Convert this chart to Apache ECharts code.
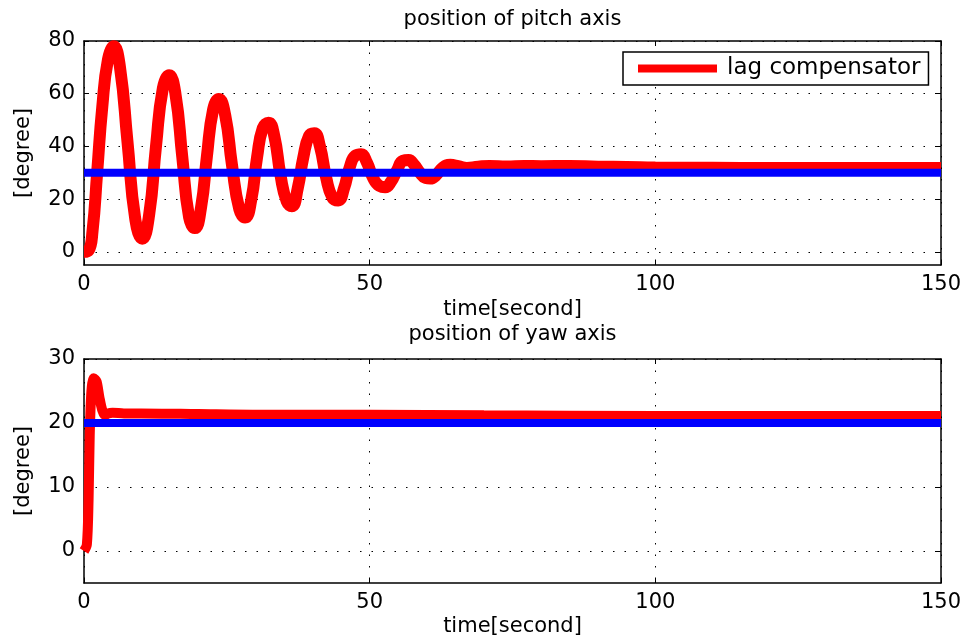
<!DOCTYPE html>
<html>
<head>
<meta charset="utf-8">
<script src="https://cdn.jsdelivr.net/npm/echarts@6/dist/echarts.min.js"></script>
<style>
  html, body { margin: 0; padding: 0; background: #fff; }
  #chart { width: 968px; height: 640px; }
</style>
</head>
<body>
<div id="chart"></div>
<script>
// pitch axis response (time in s, angle in degree)
var pitchT = [0, 0.8, 1.5, 2.3, 3.2, 4.2, 5.2, 6.3, 7.6, 9, 10.2, 11.4, 12.6, 13.8, 14.9,
  16, 17.2, 18.4, 19.4, 20.5, 21.5, 22.6, 23.6, 24.7, 25.9, 27.2, 28.2, 29.3, 30.3, 31.3, 32.3,
  33.3, 34.4, 35.5, 36.4, 37.4, 38.4, 39.4, 40.3, 41.3, 42.4, 43.5, 44.5, 45.5, 46.5, 47.5, 48.5,
  49.5, 50.6, 51.7, 52.7, 53.7, 54.8, 55.8, 56.8, 57.8, 58.8, 59.8, 60.6, 61.6, 62.8, 64.1,
  65.5, 67, 69, 71, 74, 77, 80, 85, 90, 95, 100, 110, 120, 130, 140, 150];
var pitchDeg = [0, 0.5, 8, 30, 55, 73, 78, 70, 42, 12, 5, 14, 40, 62, 67,
  60, 36, 13, 9, 17, 36, 54, 58, 52, 33, 16, 13, 20, 36, 47, 49,
  44, 29, 19, 17.3, 24, 36, 44, 45, 40, 28, 20.5, 19.5, 24, 32, 36.5, 37,
  34, 28, 25, 24.5, 26.5, 31, 34.5, 34.8, 33, 30, 28, 27.8, 29, 32, 33,
  32.5, 31.8, 32.3, 32.6, 32.4, 32.6, 32.5, 32.6, 32.3, 32.2, 32, 31.9, 31.8, 31.8, 31.8, 31.8];

// yaw axis response
var yawT = [0, 0.5, 0.8, 1.0, 1.3, 1.7, 2.2, 2.7, 3.2, 3.7, 4.2, 5, 7, 10, 20, 30, 50, 70, 100, 150];
var yawDeg = [0, 1, 8, 18, 25, 27, 26.5, 24, 22, 21.2, 21.5, 21.6, 21.5, 21.5, 21.4, 21.3, 21.3, 21.2, 21.1, 21.1];

// reference (set point) lines
var refT = [0, 150];
var pitchRef = [30, 30];
var yawRef = [20, 20];

var xTicks = [0, 50, 100, 150];
var pitchTicks = [0, 20, 40, 60, 80];
var yawTicks = [0, 10, 20, 30];

function pairs(xs, ys) {
  return xs.map(function (x, i) { return [x, ys[i]]; });
}

var font = "DejaVu Sans";
var dotted = { color: "#000", width: 1, type: [1.5, 10] };

function xAxisFor(grid, name, gap) {
  return {
    type: "value", gridIndex: grid, min: 0, max: 150, interval: 50,
    name: name, nameLocation: "middle", nameGap: gap,
    nameTextStyle: { fontFamily: font, fontSize: 21, color: "#000" },
    axisLine: { show: true, onZero: false, lineStyle: { color: "#000", width: 1.5 } },
    axisTick: { show: true, inside: true, length: 5, customValues: xTicks, lineStyle: { color: "#000" } },
    axisLabel: { fontFamily: font, fontSize: 21, color: "#000", margin: 9, customValues: xTicks },
    splitLine: { show: true, lineStyle: dotted }
  };
}
function topAxisFor(grid, name, gap) {
  return {
    type: "value", gridIndex: grid, position: "top", min: 0, max: 150, interval: 50,
    name: name, nameLocation: "middle", nameGap: gap,
    nameTextStyle: { fontFamily: font, fontSize: 21, color: "#000" },
    axisLine: { show: true, onZero: false, lineStyle: { color: "#000", width: 1.5 } },
    axisTick: { show: true, inside: true, length: 5, lineStyle: { color: "#000" } },
    axisLabel: { show: false },
    splitLine: { show: false }
  };
}
function yAxisFor(grid, min, max, ticks) {
  return {
    type: "value", gridIndex: grid, min: min, max: max,
    name: "[degree]", nameLocation: "middle", nameGap: 50,
    nameTextStyle: { fontFamily: font, fontSize: 21, color: "#000" },
    axisLine: { show: true, onZero: false, lineStyle: { color: "#000", width: 1.5 } },
    axisTick: { show: true, inside: true, length: 5, customValues: ticks, lineStyle: { color: "#000" } },
    axisLabel: { fontFamily: font, fontSize: 21, color: "#000", margin: 9, customValues: ticks },
    splitLine: { show: true, lineStyle: dotted }
  };
}
function rightAxisFor(grid, min, max, ticks) {
  return {
    type: "value", gridIndex: grid, position: "right", min: min, max: max,
    axisLine: { show: true, onZero: false, lineStyle: { color: "#000", width: 1.5 } },
    axisTick: { show: true, inside: true, length: 5, customValues: ticks, lineStyle: { color: "#000" } },
    axisLabel: { show: false },
    splitLine: { show: false }
  };
}

var chart = echarts.init(document.getElementById("chart"));
var option = {
  backgroundColor: "#fff",
  animation: false,
  grid: [
    { left: 84, right: 27, top: 41, height: 224 },
    { left: 84, right: 27, top: 359, height: 224 }
  ],
  legend: {
    data: [{ name: "lag compensator", icon: "rect" }],
    left: 623, top: 52,
    itemWidth: 79, itemHeight: 8, itemGap: 0,
    padding: [5, 8, 5, 15],
    backgroundColor: "#fff",
    borderColor: "#000", borderWidth: 1.5,
    textStyle: { fontFamily: font, fontSize: 23, color: "#000", padding: [0, 0, 0, 5] }
  },
  xAxis: [
    xAxisFor(0, "time[second]", 34),
    topAxisFor(0, "position of pitch axis", 11),
    xAxisFor(1, "time[second]", 33),
    topAxisFor(1, "position of yaw axis", 14)
  ],
  yAxis: [
    yAxisFor(0, -5, 80, pitchTicks),
    rightAxisFor(0, -5, 80, pitchTicks),
    yAxisFor(1, -5, 30, yawTicks),
    rightAxisFor(1, -5, 30, yawTicks)
  ],
  series: [
    {
      name: "lag compensator", type: "line", xAxisIndex: 0, yAxisIndex: 0,
      data: pairs(pitchT, pitchDeg), smooth: 0.5, showSymbol: false,
      color: "#ff0000", lineStyle: { color: "#ff0000", width: 12 }
    },
    {
      name: "pitch reference", type: "line", xAxisIndex: 0, yAxisIndex: 0,
      data: pairs(refT, pitchRef), showSymbol: false,
      color: "#0000ff", lineStyle: { color: "#0000ff", width: 8 }
    },
    {
      name: "lag compensator", type: "line", xAxisIndex: 2, yAxisIndex: 2,
      data: pairs(yawT, yawDeg), smooth: 0.3, showSymbol: false,
      color: "#ff0000", lineStyle: { color: "#ff0000", width: 10 }
    },
    {
      name: "yaw reference", type: "line", xAxisIndex: 2, yAxisIndex: 2,
      data: pairs(refT, yawRef), showSymbol: false,
      color: "#0000ff", lineStyle: { color: "#0000ff", width: 8 }
    }
  ]
};
chart.setOption(option);
window.addEventListener("resize", function () {
  chart.resize();
});
</script>
</body>
</html>
